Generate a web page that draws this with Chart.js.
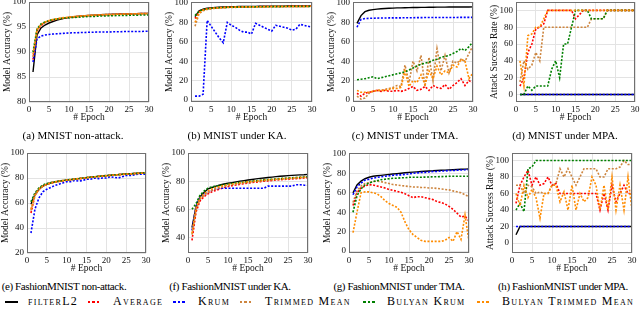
<!DOCTYPE html>
<html>
<head>
<meta charset="utf-8">
<script src="https://cdn.jsdelivr.net/npm/chart.js@4.4.0/dist/chart.umd.min.js"></script>
<style>
  body { margin: 0; width: 640px; height: 309px; position: relative; background: #fff; overflow: hidden;
         font-family: "Liberation Serif", "DejaVu Serif", serif; color: #000; }
  .box { position: absolute; width: 160px; }
  .cap { position: absolute; font-size: 11px; white-space: nowrap; transform: translateX(-50%); }
  .cap2 { letter-spacing: -0.4px; }
  .leg { position: absolute; top: 294px; font-size: 12px; font-variant: small-caps; letter-spacing: 1.3px; white-space: nowrap; }
  .mk { position: absolute; top: 301px; width: 13px; height: 2px; }
</style>
</head>
<body>
<div class="box" id="wa"><canvas id="ca"></canvas></div>
<div class="box" id="wb"><canvas id="cb"></canvas></div>
<div class="box" id="wc"><canvas id="cc"></canvas></div>
<div class="box" id="wd"><canvas id="cd"></canvas></div>
<div class="box" id="we"><canvas id="ce"></canvas></div>
<div class="box" id="wf"><canvas id="cf"></canvas></div>
<div class="box" id="wg"><canvas id="cg"></canvas></div>
<div class="box" id="wh"><canvas id="ch"></canvas></div>

<div class="cap" style="left:73px;top:129px">(a) MNIST non-attack.</div>
<div class="cap" style="left:237px;top:129px">(b) MNIST under KA.</div>
<div class="cap" style="left:405px;top:129px">(c) MNIST under TMA.</div>
<div class="cap" style="left:565px;top:129px">(d) MNIST under MPA.</div>
<div class="cap cap2" style="left:64px;top:280px">(e) FashionMNIST non-attack.</div>
<div class="cap cap2" style="left:230px;top:280px">(f) FashionMNIST under KA.</div>
<div class="cap cap2" style="left:399px;top:280px">(g) FashionMNIST under TMA.</div>
<div class="cap cap2" style="left:563px;top:280px">(h) FashionMNIST under MPA.</div>

<div id="legend"></div>

<script>
const epochs = [1, 2, 3, 4, 5, 6, 7, 8, 9, 10, 11, 12, 13, 14, 15, 16, 17, 18, 19, 20, 21, 22, 23, 24, 25, 26, 27, 28, 29, 30];
const epochTicks = [0, 5, 10, 15, 20, 25, 30];
const seriesNames = ['filterL2', 'Average', 'Krum', 'Trimmed Mean', 'Bulyan Krum', 'Bulyan Trimmed Mean'];
const seriesColors = ['#000000', '#ff0000', '#0000ff', '#cd853f', '#008000', '#ff8c00'];

// y tick labels
const ticksMnistClean = [80, 85, 90, 95, 100];
const ticksPercent = [0, 20, 40, 60, 80, 100];
const ticksFashionClean = [20, 40, 60, 80, 100];
const ticksFashionKA = [40, 60, 80, 100];

// (a) MNIST non-attack
const aFilter = [86.0, 93.4, 94.8, 95.4, 95.8, 96.1, 96.4, 96.6, 96.8, 96.9, 97.0, 97.1, 97.2, 97.25, 97.3, 97.35, 97.4, 97.45, 97.5, 97.5, 97.55, 97.55, 97.6, 97.6, 97.6, 97.65, 97.65, 97.7, 97.7, 97.7];
const aAverage = [88.5, 94.2, 95.3, 95.9, 96.2, 96.4, 96.6, 96.7, 96.8, 96.9, 97.0, 97.1, 97.15, 97.2, 97.3, 97.3, 97.35, 97.4, 97.45, 97.5, 97.5, 97.55, 97.6, 97.6, 97.6, 97.65, 97.65, 97.7, 97.7, 97.75];
const aKrum = [88.0, 92.6, 93.2, 93.4, 93.5, 93.6, 93.65, 93.7, 93.75, 93.8, 93.85, 93.85, 93.9, 93.9, 93.95, 93.95, 94.0, 94.0, 94.0, 94.0, 94.05, 94.05, 94.05, 94.1, 94.1, 94.1, 94.1, 94.1, 94.15, 94.15];
const aTrimmed = [89.0, 94.3, 95.4, 95.9, 96.2, 96.45, 96.6, 96.75, 96.85, 96.95, 97.05, 97.1, 97.2, 97.25, 97.3, 97.35, 97.4, 97.4, 97.45, 97.5, 97.5, 97.55, 97.55, 97.6, 97.6, 97.65, 97.65, 97.7, 97.7, 97.7];
const aBulyanKrum = [90.0, 94.6, 95.6, 96.0, 96.3, 96.5, 96.6, 96.7, 96.8, 96.85, 96.9, 96.95, 97.0, 97.05, 97.1, 97.1, 97.15, 97.2, 97.2, 97.25, 97.25, 97.3, 97.3, 97.3, 97.35, 97.35, 97.35, 97.4, 97.4, 97.4];
const aBulyanTrimmed = [89.5, 94.5, 95.5, 96.0, 96.3, 96.5, 96.65, 96.8, 96.9, 97.0, 97.05, 97.1, 97.2, 97.25, 97.3, 97.35, 97.4, 97.45, 97.5, 97.5, 97.5, 97.55, 97.55, 97.6, 97.6, 97.6, 97.65, 97.65, 97.65, 97.7];

// (b) MNIST under KA
const bFilter = [86, 92, 93.6, 94.5, 95.0, 95.3, 95.6, 95.8, 96.0, 96.1, 96.2, 96.3, 96.4, 96.4, 96.5, 96.5, 96.6, 96.6, 96.7, 96.7, 96.8, 96.8, 96.8, 96.9, 96.9, 96.9, 97.0, 97.0, 97.0, 97.0];
const bAverage = [84, 91, 93, 94, 94.5, 94.9, 95.2, 95.4, 95.6, 95.7, 95.8, 95.9, 96.0, 96.0, 96.1, 96.1, 96.2, 96.2, 96.3, 96.3, 96.3, 96.4, 96.4, 96.4, 96.5, 96.5, 96.5, 96.5, 96.6, 96.6];
const bKrum = [4, 4, 6, 82, 76, 70, 64, 59, 80, 77, 75, 72, 70, 70, 68, 79, 77, 75, 73, 71, 77, 76, 75, 74, 72, 73, 78, 77, 76, 75];
const bTrimmed = [76, 89, 92, 93.3, 94, 94.5, 94.8, 95.1, 95.3, 95.4, 95.5, 95.6, 95.7, 95.8, 95.9, 95.9, 96.0, 96.0, 96.1, 96.1, 96.2, 96.2, 96.2, 96.3, 96.3, 96.3, 96.4, 96.4, 96.4, 96.4];
const bBulyanKrum = [87, 91.5, 93, 94, 94.5, 94.9, 95.2, 95.4, 95.5, 95.6, 95.7, 95.8, 95.9, 95.9, 96.0, 96.0, 96.1, 96.1, 96.1, 96.2, 96.2, 96.2, 96.3, 96.3, 96.3, 96.3, 96.4, 96.4, 96.4, 96.4];
const bBulyanTrimmed = [80, 90, 92.5, 93.7, 94.3, 94.7, 95.0, 95.3, 95.5, 95.6, 95.7, 95.8, 95.9, 96.0, 96.0, 96.1, 96.1, 96.2, 96.2, 96.3, 96.3, 96.3, 96.4, 96.4, 96.4, 96.5, 96.5, 96.5, 96.5, 96.6];

// (c) MNIST under TMA
const cFilter = [79, 87, 91, 92.5, 93.2, 93.7, 94, 94.3, 94.5, 94.7, 94.9, 95, 95.1, 95.2, 95.3, 95.4, 95.5, 95.5, 95.6, 95.6, 95.7, 95.7, 95.7, 95.8, 95.8, 95.8, 95.9, 95.9, 95.9, 96];
const cAverage = [7, 4, 7, 8, 9, 10, 9, 10, 9, 9, 10, 9, 10, 12, 14, 10, 11, 14, 10, 15, 13, 12, 16, 11, 15, 18, 22, 15, 20, 18];
const cKrum = [75, 83, 84, 84.2, 84.3, 84.4, 84.5, 84.5, 84.6, 84.6, 84.7, 84.7, 84.8, 84.8, 84.8, 84.9, 84.9, 85, 85, 85, 85, 85, 85, 85.1, 85.1, 85.1, 85.2, 85.2, 85.2, 85.2];
const cTrimmed = [4, 1, 2, 7, 9, 10, 10, 11, 12, 13, 15, 14, 36, 18, 40, 30, 46, 14, 44, 20, 53, 30, 46, 28, 40, 38, 42, 40, 48, 56];
const cBulyanKrum = [21, 21.5, 22, 23, 24, 22, 23, 24, 25, 26, 27, 28, 29, 31, 33, 35, 37, 38, 39, 41, 42, 44, 45, 46, 48, 50, 53, 51, 55, 60];
const cBulyanTrimmed = [10, 8, 8, 8, 9, 10, 10, 10, 11, 12, 12, 13, 30, 14, 20, 18, 26, 16, 30, 22, 35, 26, 30, 28, 36, 34, 42, 40, 22, 28];

// (d) MNIST under MPA (attack success rate)
const dFilter = [0, 0, 0, 0, 0, 0, 0, 0, 0, 0, 0, 0, 0, 0, 0, 0, 0, 0, 0, 0, 0, 0, 0, 0, 0, 0, 0, 0, 0, 0];
const dAverage = [10, 20, 50, 60, 78, 80, 84, 100, 100, 100, 100, 100, 100, 100, 90, 95, 100, 100, 100, 100, 100, 100, 100, 100, 100, 100, 100, 100, 100, 100];
const dKrum = [0, 0, 0, 0, 0, 0, 0, 0, 0, 0, 0, 0, 0, 0, 0, 0, 0, 0, 0, 0, 0, 0, 0, 0, 0, 0, 0, 0, 0, 0];
const dTrimmed = [15, 40, 30, 35, 50, 40, 80, 80, 80, 80, 80, 80, 80, 80, 80, 80, 80, 80, 90, 90, 90, 90, 100, 100, 100, 100, 100, 100, 100, 100];
const dBulyanKrum = [0, 0, 10, 5, 10, 10, 10, 10, 30, 40, 20, 60, 60, 80, 100, 100, 100, 100, 90, 90, 90, 90, 100, 100, 100, 100, 100, 100, 100, 100];
const dBulyanTrimmed = [40, 10, 70, 72, 80, 80, 90, 100, 100, 100, 100, 100, 100, 100, 100, 100, 100, 100, 100, 100, 100, 100, 100, 100, 100, 100, 100, 100, 100, 100];

// (e) FashionMNIST non-attack
const eFilter = [59, 67, 71, 73.5, 75, 76, 76.8, 77.4, 77.9, 78.3, 78.7, 79.1, 79.5, 79.9, 80.3, 80.7, 81, 81.3, 81.6, 81.9, 82.2, 82.5, 82.7, 83, 83.2, 83.4, 83.6, 83.8, 84, 84.2];
const eAverage = [52, 66, 71, 73.5, 75, 76, 76.8, 77.3, 77.8, 78.2, 78.6, 79, 79.4, 79.8, 80.2, 80.6, 80.9, 81.2, 81.5, 81.8, 82.1, 82.4, 82.6, 82.9, 83.1, 83.3, 83.5, 83.7, 83.9, 84.1];
const eKrum = [36, 55, 64, 69, 71, 72.5, 74, 75, 76, 77, 77, 78, 77.5, 78, 79, 79, 80, 79.5, 80, 80, 81, 80.5, 80, 81, 82, 82, 82.5, 83, 83, 83];
const eTrimmed = [54, 66, 70.5, 73.5, 75, 76, 76.7, 77.3, 77.8, 78.2, 78.6, 79, 79.4, 79.8, 80.2, 80.6, 81, 81.3, 81.6, 81.9, 82.2, 82.4, 82.7, 82.9, 83.1, 83.3, 83.5, 83.7, 83.9, 84.1];
const eBulyanKrum = [61, 68, 72, 74.5, 75.5, 76.3, 77, 77.5, 78, 78.4, 78.8, 79.2, 79.6, 80, 80.4, 80.7, 81, 81.3, 81.6, 81.9, 82.2, 82.5, 82.7, 83, 83.2, 83.4, 83.6, 83.8, 84, 84.2];
const eBulyanTrimmed = [55, 66.5, 71, 73.5, 75, 76, 76.8, 77.4, 77.9, 78.3, 78.7, 79.1, 79.5, 79.9, 80.3, 80.6, 80.9, 81.2, 81.5, 81.8, 82.1, 82.4, 82.6, 82.9, 83.1, 83.3, 83.5, 83.7, 83.9, 84.3];

// (f) FashionMNIST under KA
const fFilter = [47, 62, 69, 72, 74.5, 75.5, 76.5, 77.3, 78, 78.5, 79, 79.5, 80, 80.4, 80.8, 81.2, 81.6, 82, 82.3, 82.6, 82.9, 83.2, 83.5, 83.7, 83.9, 84.1, 84.3, 84.5, 84.6, 84.8];
const fAverage = [38, 58, 66, 69, 71, 72.5, 73.5, 74.5, 75.5, 76.2, 76.8, 77.3, 77.8, 78.2, 78.6, 79, 79.3, 79.6, 80, 80.2, 80.5, 80.8, 81, 81.2, 81.4, 81.6, 81.8, 82, 82.2, 82.4];
const fKrum = [45, 62, 68, 70.5, 72, 73.5, 74.5, 75, 75, 75, 75, 75, 75, 75, 75, 75, 75, 75, 75, 76.5, 76.5, 76.5, 76.5, 76.5, 76.5, 76.5, 77.5, 77.5, 77.2, 77];
const fTrimmed = [42, 60, 67, 70, 72, 73.5, 74.5, 75.5, 76.3, 77, 77.5, 78, 78.4, 78.8, 79.2, 79.5, 79.8, 80.1, 80.4, 80.7, 81, 81.2, 81.4, 81.6, 81.8, 82, 82.2, 82.4, 82.6, 82.8];
const fBulyanKrum = [60, 64, 70, 73, 75, 76, 76.5, 77, 77.5, 78, 78.4, 78.8, 79.1, 79.4, 79.7, 80, 80.3, 80.6, 80.9, 81.2, 81.4, 81.6, 81.8, 82, 82.2, 82.4, 82.6, 82.8, 83, 83.2];
const fBulyanTrimmed = [43, 61, 68, 71, 73, 74.5, 75.5, 76.3, 77, 77.5, 78, 78.4, 78.8, 79.2, 79.5, 79.8, 80.1, 80.4, 80.7, 81, 81.2, 81.4, 81.6, 81.8, 82, 82.2, 82.4, 82.6, 82.8, 83];

// (g) FashionMNIST under TMA
const gFilter = [60, 68, 72, 74.5, 76, 77, 77.5, 78, 78.5, 79, 79.4, 79.8, 80.2, 80.6, 81, 81.3, 81.6, 81.9, 82.2, 82.5, 82.7, 83, 83.2, 83.4, 83.6, 83.8, 84, 84.2, 84.4, 84.6];
const gAverage = [47, 60, 65, 67, 68.5, 68, 67, 66, 65, 63.5, 62.5, 61.5, 60.5, 59, 57, 55, 56, 56, 55, 54, 53, 51, 50, 48.5, 46, 43, 39, 35, 36, 31];
const gKrum = [58, 66, 70, 73, 74, 75, 76, 76.5, 77, 77.5, 78, 78.5, 78.5, 79, 79.5, 80, 80.5, 81, 81, 81.5, 82, 82, 82.5, 82.5, 83, 83, 83.2, 83.5, 83.7, 84];
const gTrimmed = [50, 62, 67, 69.5, 70.5, 71.5, 72, 71.5, 70.5, 69.5, 68.5, 68, 67.5, 67, 66.5, 66, 66, 65.5, 65.5, 65, 65, 64.5, 64, 63.5, 63, 62, 61, 60, 58, 56];
const gBulyanKrum = [40, 57, 64, 68, 70, 71.5, 72.5, 73.5, 74, 74.5, 75, 75, 75.5, 75.5, 76, 76, 76, 76, 76.2, 76.3, 76.5, 76.5, 76.7, 76.8, 77, 77, 77, 77, 77, 77];
const gBulyanTrimmed = [19, 40, 60, 61, 61, 60, 59, 56, 52, 49, 47, 45, 40, 30, 22, 17, 14, 11, 10, 10, 10, 10, 10, 11, 14, 10, 20, 12, 37, 10];

// (h) FashionMNIST under MPA (attack success rate)
const hFilter = [10, 20, 20, 20, 20, 20, 20, 20, 20, 20, 20, 20, 20, 20, 20, 20, 20, 20, 20, 20, 20, 20, 20, 20, 20, 20, 20, 20, 20, 20];
const hAverage = [48, 70, 80, 88, 70, 80, 70, 72, 80, 70, 72, 60, 60, 60, 60, 60, 60, 60, 60, 60, 60, 40, 60, 40, 70, 50, 60, 70, 60, 60];
const hKrum = [20, 20, 20, 20, 20, 20, 20, 20, 20, 20, 20, 20, 20, 20, 20, 20, 20, 20, 20, 20, 20, 20, 20, 20, 20, 20, 20, 20, 20, 20];
const hTrimmed = [70, 70, 60, 70, 68, 60, 62, 60, 60, 70, 72, 90, 80, 90, 80, 70, 80, 90, 90, 90, 90, 80, 80, 90, 90, 90, 92, 100, 95, 95];
const hBulyanKrum = [40, 48, 38, 90, 92, 100, 100, 100, 100, 100, 100, 100, 100, 100, 100, 100, 100, 100, 100, 100, 100, 100, 100, 100, 100, 100, 100, 100, 100, 100];
const hBulyanTrimmed = [60, 45, 70, 55, 65, 55, 30, 60, 60, 70, 70, 50, 62, 40, 70, 40, 60, 50, 55, 80, 70, 40, 70, 40, 80, 40, 70, 40, 80, 40];

const accTitle = 'Model Accuracy (%)';
const asrTitle = 'Attack Success Rate (%)';

// wrapper box + plot area (page pixels), y range
const panels = [
  { id: 'a', left: 0,   top: 0,   h: 122, plot: [29, 149, 2, 102],   y: [80, 100],  ticks: ticksMnistClean,   title: accTitle, data: [aFilter, aAverage, aKrum, aTrimmed, aBulyanKrum, aBulyanTrimmed] },
  { id: 'b', left: 160, top: 0,   h: 122, plot: [191, 312, 2, 102],  y: [-2, 101],  ticks: ticksPercent,      title: accTitle, data: [bFilter, bAverage, bKrum, bTrimmed, bBulyanKrum, bBulyanTrimmed] },
  { id: 'c', left: 320, top: 0,   h: 122, plot: [353, 473, 2, 102],  y: [-2, 101],  ticks: ticksPercent,      title: accTitle, data: [cFilter, cAverage, cKrum, cTrimmed, cBulyanKrum, cBulyanTrimmed] },
  { id: 'd', left: 480, top: 0,   h: 122, plot: [516, 635, 2, 102],  y: [-9, 110],  ticks: ticksPercent,      title: asrTitle, data: [dFilter, dAverage, dKrum, dTrimmed, dBulyanKrum, dBulyanTrimmed] },
  { id: 'e', left: 0,   top: 140, h: 133, plot: [27, 146, 153, 253], y: [20, 100],  ticks: ticksFashionClean, title: accTitle, data: [eFilter, eAverage, eKrum, eTrimmed, eBulyanKrum, eBulyanTrimmed] },
  { id: 'f', left: 160, top: 140, h: 133, plot: [188, 308, 153, 253], y: [29, 100], ticks: ticksFashionKA,    title: accTitle, data: [fFilter, fAverage, fKrum, fTrimmed, fBulyanKrum, fBulyanTrimmed] },
  { id: 'g', left: 320, top: 140, h: 133, plot: [349, 469, 153, 253], y: [-2, 101], ticks: ticksPercent,      title: accTitle, data: [gFilter, gAverage, gKrum, gTrimmed, gBulyanKrum, gBulyanTrimmed] },
  { id: 'h', left: 480, top: 140, h: 133, plot: [512, 632, 153, 253], y: [-12, 109], ticks: ticksPercent,     title: asrTitle, data: [hFilter, hAverage, hKrum, hTrimmed, hBulyanKrum, hBulyanTrimmed] }
];

// box around the plot area, like matplotlib spines
const framePlugin = {
  id: 'frame',
  afterDraw(chart) {
    const a = chart.chartArea, ctx = chart.ctx;
    ctx.save();
    ctx.strokeStyle = '#707070';
    ctx.lineWidth = 1;
    ctx.strokeRect(a.left + 0.5, a.top + 0.5, a.right - a.left - 1, a.bottom - a.top - 1);
    ctx.restore();
  }
};

const tickFont = { family: 'Liberation Serif', size: 9 };
const titleFont = { family: 'Liberation Serif', size: 9.5 };

panels.forEach(p => {
  const wrap = document.getElementById('w' + p.id);
  wrap.style.left = p.left + 'px';
  wrap.style.top = p.top + 'px';
  wrap.style.height = p.h + 'px';
  const [pl, pr, pt, pb] = p.plot;
  const yW = pl - p.left;
  const xH = p.top + p.h - pb;

  const datasets = p.data.map((vals, i) => ({
    label: seriesNames[i],
    data: vals.map((v, k) => ({ x: epochs[k], y: v })),
    borderColor: seriesColors[i],
    borderWidth: i === 0 ? 1.4 : 1.6,
    borderDash: i === 0 ? [] : [2, 1.6],
    pointRadius: 0,
    tension: 0,
    fill: false,
    order: 6 - i
  }));

  new Chart(document.getElementById('c' + p.id), {
    type: 'line',
    data: { datasets },
    options: {
      responsive: true,
      maintainAspectRatio: false,
      animation: false,
      layout: { padding: { left: 0, top: pt - p.top, right: p.left + 160 - pr, bottom: 0 } },
      plugins: { legend: { display: false }, tooltip: { enabled: false } },
      scales: {
        x: {
          type: 'linear', min: 0, max: 30,
          afterBuildTicks(s) { s.ticks = epochTicks.map(v => ({ value: v })); },
          ticks: { font: tickFont, color: '#111', padding: 2, maxRotation: 0, autoSkip: false },
          grid: { color: '#e3e3e3', drawTicks: false },
          border: { display: false },
          title: { display: true, text: '# Epoch', font: titleFont, color: '#111', padding: { top: 0, bottom: xH - 15 - 5.7 } },
          afterFit(s) { s.height = xH; s.paddingLeft = 0; s.paddingRight = 0; }
        },
        y: {
          min: p.y[0], max: p.y[1],
          afterBuildTicks(s) { s.ticks = p.ticks.map(v => ({ value: v })); },
          ticks: { font: tickFont, color: '#111', padding: 3, autoSkip: false },
          grid: { color: '#e3e3e3', drawTicks: false },
          border: { display: false },
          title: { display: true, text: p.title, font: titleFont, color: '#111', padding: { top: yW - 22 - 5.7, bottom: 0 } },
          afterFit(s) { s.width = yW; s.paddingTop = 0; s.paddingBottom = 0; }
        }
      }
    },
    plugins: [framePlugin]
  });
});

// shared legend below the panels
const legendPos = [[5, 28], [88, 113], [173, 198], [240, 265], [363, 387], [477, 502]];
const legend = document.getElementById('legend');
seriesNames.forEach((name, i) => {
  const mk = document.createElement('div');
  mk.className = 'mk';
  mk.style.left = legendPos[i][0] + 'px';
  mk.style.background = i === 0 ? seriesColors[i]
    : `repeating-linear-gradient(90deg, ${seriesColors[i]} 0 2.5px, transparent 2.5px 4.5px)`;
  legend.appendChild(mk);
  const tx = document.createElement('div');
  tx.className = 'leg';
  tx.style.left = legendPos[i][1] + 'px';
  tx.textContent = name;
  legend.appendChild(tx);
});
</script>
</body>
</html>
